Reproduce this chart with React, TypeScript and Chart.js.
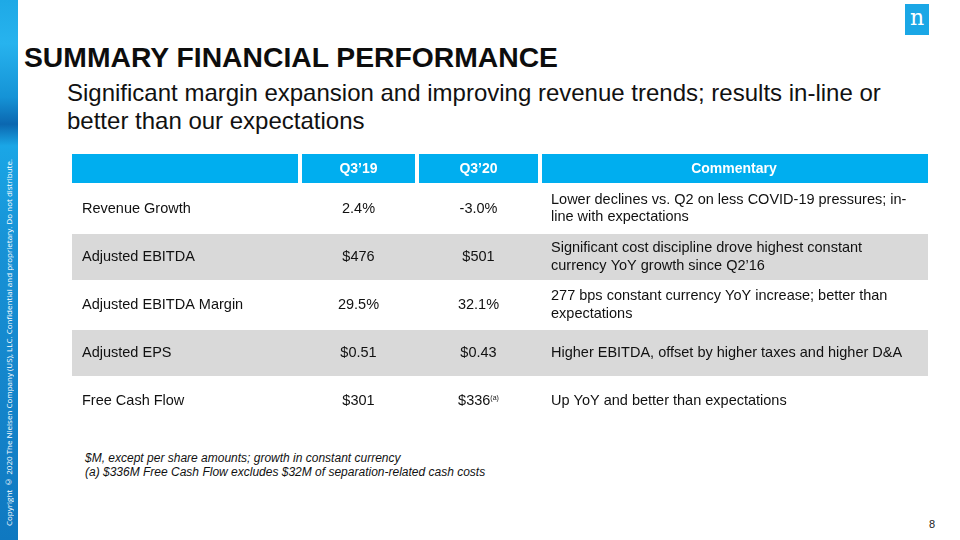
import React, { useEffect, useRef } from 'react';
import { Chart, registerables } from 'chart.js';

Chart.register(...registerables);

// ---------- data ----------
const columnHeaders = ['', 'Q3’19', 'Q3’20', 'Commentary'];
const metrics = ['Revenue Growth', 'Adjusted EBITDA', 'Adjusted EBITDA Margin', 'Adjusted EPS', 'Free Cash Flow'];
const q319Values = ['2.4%', '$476', '29.5%', '$0.51', '$301'];
const q320Values = ['-3.0%', '$501', '32.1%', '$0.43', '$336'];
const q320Notes = ['', '', '', '', '(a)'];
const commentary = [
  ['Lower declines vs. Q2 on less COVID-19 pressures; in-', 'line with expectations'],
  ['Significant cost discipline drove highest constant', 'currency YoY growth since Q2’16'],
  ['277 bps constant currency YoY increase; better than', 'expectations'],
  ['Higher EBITDA, offset by higher taxes and higher D&A'],
  ['Up YoY and better than expectations'],
];
const footnotes = [
  '$M, except per share amounts; growth in constant currency',
  '(a) $336M Free Cash Flow excludes $32M of separation-related cash costs',
];

// ---------- layout (table geometry in scale units) ----------
const TABLE_W = 856;
const TABLE_H = 271;
const COL_EDGES = [0, 228, 345, 468, 856];
const ROW_EDGES = [0, 29, 80, 126, 176, 222, 271];
const HEADER_GAP = 2;
const BLUE = '#00AEEF';
const GRAY = '#D9D9D9';
const FONT = '"Liberation Sans", Arial, sans-serif';

const tablePlugin = {
  id: 'tableCells',
  afterDraw(chart: any) {
    const { ctx } = chart;
    const xs = chart.scales.x;
    const ys = chart.scales.y;
    const px = (v: number) => xs.getPixelForValue(v);
    const py = (v: number) => ys.getPixelForValue(v);
    ctx.save();
    // header cells
    for (let c = 0; c < columnHeaders.length; c++) {
      const x0 = px(COL_EDGES[c]) + (c > 0 ? HEADER_GAP : 0);
      const x1 = px(COL_EDGES[c + 1]) - (c < columnHeaders.length - 1 ? HEADER_GAP : 0);
      const y0 = py(ROW_EDGES[0]);
      const y1 = py(ROW_EDGES[1]);
      ctx.fillStyle = BLUE;
      ctx.fillRect(x0, y0, x1 - x0, y1 - y0);
      if (columnHeaders[c]) {
        ctx.fillStyle = '#ffffff';
        ctx.font = `bold 14px ${FONT}`;
        ctx.textAlign = 'center';
        ctx.textBaseline = 'middle';
        ctx.fillText(columnHeaders[c], (px(COL_EDGES[c]) + px(COL_EDGES[c + 1])) / 2, (y0 + y1) / 2 + 1);
      }
    }
    // body rows
    for (let r = 0; r < metrics.length; r++) {
      const y0 = py(ROW_EDGES[r + 1]);
      const y1 = py(ROW_EDGES[r + 2]);
      const yc = (y0 + y1) / 2;
      if (r % 2 === 1) {
        ctx.fillStyle = GRAY;
        ctx.fillRect(px(0), y0, px(TABLE_W) - px(0), y1 - y0);
      }
      ctx.fillStyle = '#111111';
      ctx.font = `14.5px ${FONT}`;
      ctx.textBaseline = 'middle';
      ctx.textAlign = 'left';
      ctx.fillText(metrics[r], px(COL_EDGES[0]) + 10, yc);
      ctx.textAlign = 'center';
      ctx.fillText(q319Values[r], (px(COL_EDGES[1]) + px(COL_EDGES[2])) / 2, yc);
      // Q3'20 with optional superscript note
      const note = q320Notes[r];
      const cx = (px(COL_EDGES[2]) + px(COL_EDGES[3])) / 2;
      if (note) {
        const mainW = ctx.measureText(q320Values[r]).width;
        ctx.font = `7px ${FONT}`;
        const noteW = ctx.measureText(note).width;
        const start = cx - (mainW + noteW) / 2;
        ctx.textAlign = 'left';
        ctx.fillText(note, start + mainW, yc - 2);
        ctx.font = `14.5px ${FONT}`;
        ctx.fillText(q320Values[r], start, yc);
      } else {
        ctx.fillText(q320Values[r], cx, yc);
      }
      ctx.textAlign = 'left';
      const lines = commentary[r];
      const lh = 17.5;
      lines.forEach((ln, i) => {
        ctx.fillText(ln, px(COL_EDGES[3]) + 11, yc + (i - (lines.length - 1) / 2) * lh);
      });
    }
    ctx.restore();
  },
};

function SummaryTable() {
  const canvasRef = useRef<HTMLCanvasElement | null>(null);
  useEffect(() => {
    if (!canvasRef.current) return;
    const chart = new Chart(canvasRef.current, {
      type: 'scatter',
      data: { datasets: [] },
      options: {
        animation: false,
        responsive: true,
        maintainAspectRatio: false,
        layout: { padding: 0 },
        plugins: { legend: { display: false }, tooltip: { enabled: false }, title: { display: false } },
        scales: {
          x: { type: 'linear', min: 0, max: TABLE_W, offset: false, display: false },
          y: { type: 'linear', min: 0, max: TABLE_H, reverse: true, offset: false, display: false },
        },
      },
      plugins: [tablePlugin],
    });
    return () => chart.destroy();
  }, []);
  return (
    <div style={{ position: 'absolute', left: 72, top: 154, width: TABLE_W, height: TABLE_H }}>
      <canvas ref={canvasRef} />
    </div>
  );
}

export default function App() {
  useEffect(() => {
    document.body.style.margin = '0';
  }, []);
  return (
    <div
      style={{
        position: 'absolute',
        left: 0,
        top: 0,
        width: 960,
        height: 540,
        background: '#ffffff',
        overflow: 'hidden',
        fontFamily: FONT,
        color: '#111',
      }}
    >
      {/* left decorative strip */}
      <div
        style={{
          position: 'absolute',
          left: 0,
          top: 0,
          width: 18,
          height: 540,
          background:
            'linear-gradient(180deg, #1ea9e6 0%, #27b3ee 8%, #1593d6 18%, #0b67b0 23%, #1aa6e6 27%, #1792d6 45%, #1486cc 70%, #0f78c0 100%)',
        }}
      />
      <div
        style={{
          position: 'absolute',
          left: 3,
          top: 160,
          height: 366,
          width: 12,
          writingMode: 'vertical-rl',
          transform: 'rotate(180deg)',
          fontSize: 8,
          lineHeight: '12px',
          color: '#ffffff',
          fontFamily: '"Open Sans", sans-serif',
          whiteSpace: 'nowrap',
          textAlign: 'start',
        }}
      >
        Copyright © 2020 The Nielsen Company (US), LLC. Confidential and proprietary. Do not distribute.
      </div>
      {/* logo */}
      <div
        style={{
          position: 'absolute',
          left: 905,
          top: 4,
          width: 24,
          height: 31,
          background: '#1AA7E6',
          color: '#fff',
          fontFamily: '"DejaVu Serif", "Liberation Serif", serif',
          fontSize: 22,
          lineHeight: '28px',
          textAlign: 'center',
        }}
      >
        n
      </div>
      {/* title */}
      <div
        style={{
          position: 'absolute',
          left: 24,
          top: 43,
          fontSize: 28.3,
          lineHeight: '28px',
          fontWeight: 'bold',
          whiteSpace: 'nowrap',
          color: '#0d0d0d',
        }}
      >
        SUMMARY FINANCIAL PERFORMANCE
      </div>
      <div
        style={{
          position: 'absolute',
          left: 67,
          top: 79,
          width: 880,
          fontSize: 24,
          lineHeight: '28px',
          color: '#111',
          whiteSpace: 'nowrap',
        }}
      >
        Significant margin expansion and improving revenue trends; results in-line or
        <br />
        better than our expectations
      </div>
      <SummaryTable />
      <div
        style={{
          position: 'absolute',
          left: 85,
          top: 451,
          fontSize: 12,
          lineHeight: '14px',
          fontStyle: 'italic',
          color: '#111',
          whiteSpace: 'nowrap',
        }}
      >
        {footnotes.map((f, i) => (
          <div key={i}>{f}</div>
        ))}
      </div>
      <div style={{ position: 'absolute', left: 929, top: 519, fontSize: 11, lineHeight: '11px', color: '#222' }}>8</div>
    </div>
  );
}
